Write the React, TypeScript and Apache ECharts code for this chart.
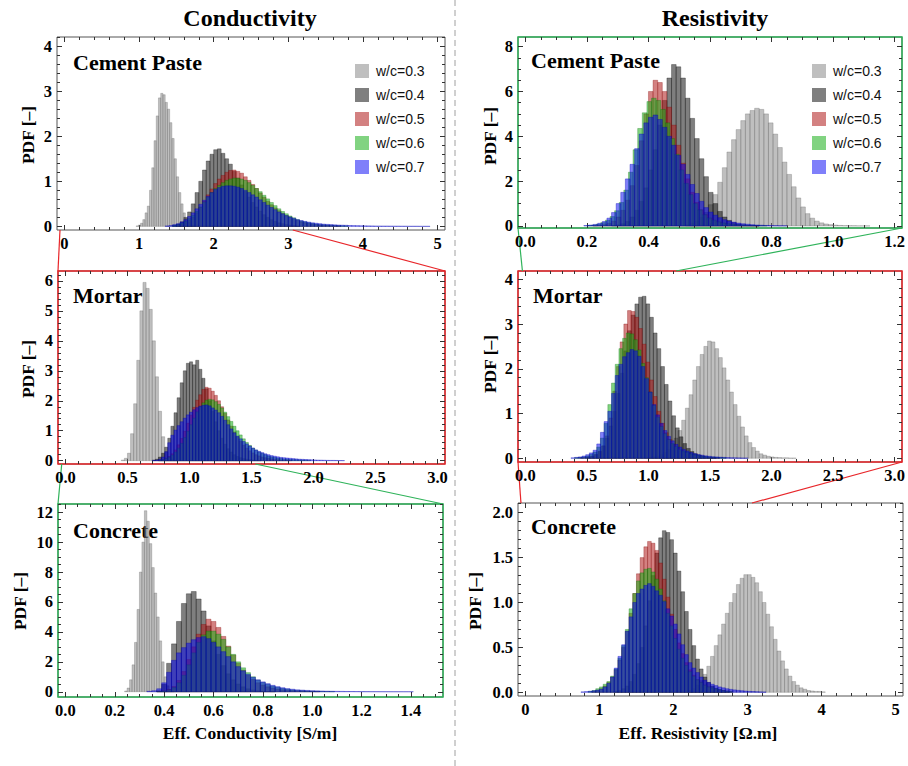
import { useEffect, useRef } from "react";
import * as echarts from "echarts";

// ---------------- data ----------------
const SERIES_NAMES = ["w/c=0.3", "w/c=0.4", "w/c=0.5", "w/c=0.6", "w/c=0.7"];

// Conductivity - cement paste (bin starts / widths per series, PDF heights)
const COND_PASTE_START = [0.96, 1.45, 1.5, 1.45, 1.35];
const COND_PASTE_WIDTH = [0.03, 0.05, 0.05, 0.05, 0.05];
const COND_PASTE_03 = [0.01, 0.03, 0.07, 0.15, 0.3, 0.45, 0.8, 1.3, 1.9, 2.45, 2.85, 2.95, 2.92, 2.75, 2.6, 2.3, 1.95, 1.5, 1.1, 0.75, 0.5, 0.3, 0.17, 0.09, 0.05, 0.02];
const COND_PASTE_04 = [0.02, 0.05, 0.1, 0.2, 0.32, 0.5, 0.75, 1.0, 1.25, 1.45, 1.6, 1.7, 1.72, 1.62, 1.5, 1.38, 1.22, 1.07, 0.92, 0.78, 0.65, 0.53, 0.43, 0.34, 0.26, 0.2, 0.15, 0.11, 0.08, 0.06, 0.04, 0.03, 0.02, 0.01];
const COND_PASTE_05 = [0.02, 0.04, 0.08, 0.13, 0.2, 0.3, 0.42, 0.56, 0.7, 0.83, 0.95, 1.05, 1.13, 1.2, 1.24, 1.25, 1.22, 1.18, 1.1, 1.02, 0.93, 0.84, 0.74, 0.65, 0.56, 0.48, 0.41, 0.35, 0.29, 0.24, 0.2, 0.16, 0.13, 0.1, 0.08, 0.065, 0.05, 0.04, 0.03, 0.025, 0.02, 0.015, 0.01, 0.01];
const COND_PASTE_06 = [0.02, 0.04, 0.07, 0.11, 0.17, 0.24, 0.33, 0.43, 0.54, 0.65, 0.75, 0.84, 0.91, 0.97, 1.02, 1.05, 1.07, 1.07, 1.05, 1.02, 0.97, 0.91, 0.84, 0.77, 0.69, 0.61, 0.53, 0.46, 0.39, 0.33, 0.28, 0.23, 0.19, 0.15, 0.12, 0.1, 0.08, 0.065, 0.05, 0.04, 0.035, 0.03, 0.025, 0.02, 0.015, 0.012, 0.01];
const COND_PASTE_07 = [0.01, 0.02, 0.04, 0.06, 0.1, 0.15, 0.22, 0.3, 0.39, 0.49, 0.58, 0.67, 0.75, 0.82, 0.86, 0.89, 0.9, 0.9, 0.89, 0.87, 0.84, 0.8, 0.75, 0.7, 0.65, 0.59, 0.53, 0.47, 0.42, 0.37, 0.32, 0.28, 0.24, 0.21, 0.18, 0.15, 0.13, 0.11, 0.095, 0.08, 0.07, 0.06, 0.05, 0.045, 0.04, 0.035, 0.03, 0.027, 0.024, 0.02, 0.018, 0.016, 0.014, 0.012, 0.011, 0.01, 0.009, 0.008, 0.007, 0.007, 0.006, 0.005, 0.005, 0.004, 0.004, 0.003, 0.003, 0.003, 0.002, 0.002, 0.002];

// Conductivity - mortar
const COND_MORTAR_START = [0.45, 0.7, 0.75, 0.75, 0.7];
const COND_MORTAR_WIDTH = [0.025, 0.025, 0.025, 0.025, 0.025];
const COND_MORTAR_03 = [0.02, 0.08, 0.25, 0.9, 1.9, 3.35, 5.0, 5.95, 5.75, 5.05, 4.0, 2.8, 1.65, 0.8, 0.3, 0.12, 0.05, 0.02];
const COND_MORTAR_04 = [0.02, 0.05, 0.12, 0.25, 0.45, 0.75, 1.15, 1.6, 2.1, 2.6, 3.0, 3.25, 3.3, 3.2, 3.35, 3.05, 2.75, 2.4, 2.0, 1.65, 1.3, 1.0, 0.75, 0.55, 0.4, 0.29, 0.2, 0.14, 0.1, 0.07, 0.05, 0.035, 0.025, 0.015, 0.01];
const COND_MORTAR_05 = [0.02, 0.04, 0.08, 0.14, 0.23, 0.36, 0.53, 0.74, 0.98, 1.25, 1.52, 1.78, 2.02, 2.2, 2.38, 2.45, 2.42, 2.32, 2.18, 2.0, 1.8, 1.58, 1.36, 1.15, 0.96, 0.8, 0.65, 0.52, 0.42, 0.33, 0.26, 0.2, 0.16, 0.12, 0.1, 0.08, 0.06, 0.045, 0.035, 0.025, 0.02, 0.015, 0.01];
const COND_MORTAR_06 = [0.02, 0.04, 0.07, 0.12, 0.19, 0.29, 0.42, 0.58, 0.77, 0.98, 1.2, 1.42, 1.63, 1.8, 1.93, 2.02, 2.05, 2.03, 1.97, 1.88, 1.76, 1.62, 1.47, 1.31, 1.15, 1.0, 0.86, 0.73, 0.61, 0.51, 0.42, 0.35, 0.29, 0.24, 0.2, 0.16, 0.13, 0.11, 0.09, 0.075, 0.06, 0.05, 0.04, 0.035, 0.03, 0.025, 0.02, 0.015, 0.01];
const COND_MORTAR_07 = [0.01, 0.02, 0.05, 0.12, 0.3, 0.6, 0.85, 1.02, 1.17, 1.3, 1.42, 1.53, 1.62, 1.7, 1.77, 1.82, 1.85, 1.86, 1.83, 1.76, 1.69, 1.6, 1.48, 1.35, 1.2, 1.06, 0.93, 0.82, 0.73, 0.64, 0.56, 0.49, 0.42, 0.36, 0.31, 0.27, 0.23, 0.2, 0.17, 0.15, 0.13, 0.11, 0.1, 0.09, 0.08, 0.07, 0.06, 0.05, 0.045, 0.04, 0.035, 0.03, 0.025, 0.02, 0.018, 0.015, 0.012, 0.01, 0.01, 0.008, 0.006, 0.005];

// Conductivity - concrete
const COND_CONCRETE_START = [0.24, 0.37, 0.37, 0.37, 0.33];
const COND_CONCRETE_WIDTH = [0.01, 0.02, 0.02, 0.02, 0.02];
const COND_CONCRETE_03 = [0.05, 0.25, 0.8, 1.8, 3.3, 5.5, 8.0, 10.0, 12.1, 11.4, 9.9, 8.3, 6.6, 5.0, 3.4, 2.0, 1.0, 0.4, 0.15, 0.05];
const COND_CONCRETE_04 = [0.06, 0.5, 1.9, 3.2, 4.7, 5.9, 6.55, 6.7, 6.2, 5.4, 4.4, 3.4, 2.5, 1.75, 1.2, 0.8, 0.52, 0.33, 0.2, 0.12, 0.07, 0.04, 0.02, 0.01];
const COND_CONCRETE_05 = [0.02, 0.06, 0.15, 0.35, 0.75, 1.35, 2.15, 3.0, 3.85, 4.5, 4.85, 4.7, 4.3, 3.7, 3.05, 2.45, 1.9, 1.45, 1.1, 0.82, 0.6, 0.45, 0.33, 0.25, 0.18, 0.13, 0.1, 0.07, 0.05, 0.04, 0.03, 0.02, 0.01];
const COND_CONCRETE_06 = [0.02, 0.05, 0.12, 0.28, 0.6, 1.1, 1.8, 2.6, 3.3, 3.8, 4.05, 4.05, 3.85, 3.5, 3.0, 2.5, 2.0, 1.6, 1.28, 1.0, 0.78, 0.62, 0.5, 0.38, 0.3, 0.22, 0.17, 0.12, 0.09, 0.07, 0.05, 0.04, 0.03, 0.02, 0.015, 0.01];
const COND_CONCRETE_07 = [0.03, 0.07, 0.2, 0.6, 1.3, 2.1, 2.6, 2.95, 3.25, 3.48, 3.62, 3.68, 3.55, 3.3, 3.0, 2.68, 2.35, 2.0, 1.68, 1.4, 1.17, 0.97, 0.8, 0.66, 0.54, 0.43, 0.34, 0.27, 0.21, 0.17, 0.13, 0.11, 0.09, 0.07, 0.06, 0.05, 0.04, 0.035, 0.03, 0.025, 0.02, 0.018, 0.015, 0.012, 0.01, 0.008, 0.008, 0.006, 0.005, 0.004, 0.004, 0.003, 0.003, 0.003];

// Resistivity - cement paste
const RES_PASTE_START = [0.52, 0.28, 0.22, 0.2, 0.19];
const RES_PASTE_WIDTH = [0.015, 0.015, 0.015, 0.015, 0.015];
const RES_PASTE_03 = [0.06, 0.12, 0.22, 0.38, 0.6, 0.95, 1.4, 1.95, 2.6, 3.3, 3.85, 4.3, 4.7, 5.0, 5.15, 5.25, 5.2, 5.0, 4.6, 4.1, 3.5, 2.85, 2.3, 1.75, 1.25, 0.85, 0.55, 0.35, 0.22, 0.14, 0.09, 0.06, 0.04, 0.025, 0.015, 0.01, 0.01, 0.005, 0.005, 0.005];
const RES_PASTE_04 = [0.02, 0.05, 0.1, 0.2, 0.4, 0.7, 1.1, 1.7, 2.5, 3.4, 4.5, 5.6, 6.6, 7.2, 7.1, 6.6, 5.7, 4.8, 3.9, 3.0, 2.2, 1.5, 1.0, 0.65, 0.4, 0.25, 0.15, 0.09, 0.05, 0.03, 0.02, 0.01];
const RES_PASTE_05 = [0.01, 0.03, 0.06, 0.12, 0.22, 0.4, 0.7, 1.15, 1.8, 2.7, 3.8, 5.0, 6.0, 6.5, 6.4, 6.0, 5.3, 4.5, 3.6, 2.8, 2.1, 1.5, 1.05, 0.72, 0.5, 0.34, 0.23, 0.16, 0.11, 0.08, 0.06, 0.04, 0.03, 0.02, 0.015, 0.01];
const RES_PASTE_06 = [0.02, 0.04, 0.08, 0.15, 0.26, 0.42, 0.68, 1.05, 1.6, 2.4, 3.4, 4.35, 5.05, 5.55, 5.7, 5.6, 5.2, 4.6, 3.9, 3.2, 2.5, 1.9, 1.4, 1.0, 0.72, 0.5, 0.36, 0.26, 0.19, 0.14, 0.1, 0.08, 0.06, 0.045, 0.035, 0.025, 0.02, 0.015, 0.01];
const RES_PASTE_07 = [0.02, 0.04, 0.07, 0.12, 0.2, 0.35, 0.6, 1.0, 1.5, 2.1, 2.75, 3.45, 4.1, 4.6, 4.85, 4.95, 4.75, 4.4, 4.0, 3.6, 3.15, 2.75, 2.3, 1.85, 1.45, 1.1, 0.82, 0.62, 0.48, 0.37, 0.28, 0.22, 0.17, 0.13, 0.1, 0.08, 0.06, 0.045, 0.035, 0.025, 0.02, 0.015, 0.01, 0.01];

// Resistivity - mortar
const RES_MORTAR_START = [1.0, 0.5, 0.44, 0.4, 0.37];
const RES_MORTAR_WIDTH = [0.03, 0.03, 0.03, 0.03, 0.03];
const RES_MORTAR_03 = [0.02, 0.03, 0.05, 0.08, 0.13, 0.2, 0.3, 0.45, 0.62, 0.85, 1.12, 1.42, 1.75, 2.05, 2.32, 2.5, 2.62, 2.6, 2.45, 2.25, 2.02, 1.75, 1.48, 1.2, 0.94, 0.7, 0.5, 0.35, 0.24, 0.16, 0.1, 0.07, 0.045, 0.03, 0.02, 0.015, 0.01, 0.01, 0.005, 0.005];
const RES_MORTAR_04 = [0.02, 0.04, 0.08, 0.15, 0.27, 0.45, 0.72, 1.05, 1.45, 1.9, 2.4, 2.85, 3.2, 3.45, 3.6, 3.62, 3.45, 3.15, 2.8, 2.45, 2.05, 1.65, 1.28, 0.95, 0.68, 0.48, 0.33, 0.22, 0.15, 0.1, 0.07, 0.05, 0.03, 0.02, 0.01];
const RES_MORTAR_05 = [0.01, 0.02, 0.03, 0.05, 0.09, 0.16, 0.28, 0.5, 0.9, 1.5, 2.05, 2.6, 3.0, 3.3, 3.28, 3.15, 2.9, 2.55, 2.15, 1.75, 1.38, 1.05, 0.78, 0.57, 0.42, 0.31, 0.23, 0.17, 0.13, 0.1, 0.08, 0.06, 0.045, 0.035, 0.025, 0.02, 0.015, 0.01];
const RES_MORTAR_06 = [0.01, 0.02, 0.03, 0.05, 0.09, 0.14, 0.25, 0.45, 0.78, 1.2, 1.68, 2.1, 2.45, 2.68, 2.8, 2.78, 2.65, 2.42, 2.12, 1.8, 1.48, 1.18, 0.92, 0.71, 0.55, 0.42, 0.33, 0.26, 0.2, 0.16, 0.13, 0.1, 0.08, 0.065, 0.05, 0.04, 0.03, 0.025, 0.02, 0.015, 0.01];
const RES_MORTAR_07 = [0.01, 0.02, 0.03, 0.05, 0.08, 0.12, 0.18, 0.32, 0.58, 0.82, 1.05, 1.45, 1.85, 2.1, 2.27, 2.36, 2.43, 2.4, 2.28, 2.05, 1.78, 1.48, 1.2, 0.97, 0.78, 0.62, 0.49, 0.39, 0.31, 0.25, 0.2, 0.16, 0.13, 0.105, 0.085, 0.07, 0.055, 0.045, 0.035, 0.03, 0.025, 0.02, 0.015, 0.012, 0.01, 0.008, 0.006, 0.005];

// Resistivity - concrete
const RES_CONCRETE_START = [2.2, 1.2, 0.9, 0.85, 0.75];
const RES_CONCRETE_WIDTH = [0.05, 0.05, 0.05, 0.05, 0.05];
const RES_CONCRETE_03 = [0.02, 0.04, 0.08, 0.13, 0.2, 0.29, 0.4, 0.52, 0.64, 0.76, 0.88, 1.0, 1.1, 1.2, 1.27, 1.31, 1.31, 1.28, 1.22, 1.12, 1.0, 0.87, 0.73, 0.59, 0.46, 0.35, 0.26, 0.18, 0.12, 0.08, 0.05, 0.035, 0.02, 0.015, 0.01, 0.01, 0.005];
const RES_CONCRETE_04 = [0.01, 0.02, 0.04, 0.07, 0.12, 0.2, 0.32, 0.5, 0.74, 1.02, 1.3, 1.55, 1.72, 1.8, 1.78, 1.7, 1.55, 1.35, 1.12, 0.9, 0.7, 0.52, 0.37, 0.26, 0.17, 0.11, 0.07, 0.045, 0.03, 0.02, 0.01];
const RES_CONCRETE_05 = [0.01, 0.02, 0.04, 0.07, 0.11, 0.17, 0.25, 0.36, 0.5, 0.68, 0.88, 1.1, 1.32, 1.5, 1.62, 1.68, 1.66, 1.58, 1.44, 1.26, 1.06, 0.87, 0.7, 0.55, 0.43, 0.33, 0.25, 0.19, 0.14, 0.11, 0.08, 0.06, 0.045, 0.035, 0.025, 0.02, 0.015, 0.01];
const RES_CONCRETE_06 = [0.01, 0.02, 0.04, 0.06, 0.09, 0.12, 0.18, 0.26, 0.38, 0.52, 0.7, 0.93, 1.1, 1.24, 1.33, 1.37, 1.38, 1.34, 1.26, 1.15, 1.02, 0.88, 0.74, 0.6, 0.48, 0.38, 0.3, 0.23, 0.18, 0.14, 0.11, 0.08, 0.06, 0.05, 0.04, 0.03, 0.02, 0.015, 0.01];
const RES_CONCRETE_07 = [0.005, 0.008, 0.012, 0.018, 0.025, 0.035, 0.06, 0.1, 0.17, 0.27, 0.4, 0.53, 0.68, 0.84, 1.0, 1.1, 1.15, 1.19, 1.21, 1.18, 1.13, 1.08, 1.01, 0.93, 0.85, 0.76, 0.65, 0.53, 0.42, 0.33, 0.27, 0.22, 0.17, 0.135, 0.11, 0.09, 0.075, 0.06, 0.05, 0.04, 0.033, 0.027, 0.022, 0.018, 0.014, 0.011, 0.009, 0.007, 0.005, 0.004];

// tick labels
const COND_PASTE_X_TICKS = [0, 1, 2, 3, 4, 5];
const COND_PASTE_Y_TICKS = [0, 1, 2, 3, 4];
const COND_MORTAR_X_TICKS = [0, 0.5, 1, 1.5, 2, 2.5, 3];
const COND_MORTAR_Y_TICKS = [0, 1, 2, 3, 4, 5, 6];
const COND_CONCRETE_X_TICKS = [0, 0.2, 0.4, 0.6, 0.8, 1.0, 1.2, 1.4];
const COND_CONCRETE_Y_TICKS = [0, 2, 4, 6, 8, 10, 12];
const RES_PASTE_X_TICKS = [0, 0.2, 0.4, 0.6, 0.8, 1.0, 1.2];
const RES_PASTE_Y_TICKS = [0, 2, 4, 6, 8];
const RES_MORTAR_X_TICKS = [0, 0.5, 1, 1.5, 2, 2.5, 3];
const RES_MORTAR_Y_TICKS = [0, 1, 2, 3, 4];
const RES_CONCRETE_X_TICKS = [0, 1, 2, 3, 4, 5];
const RES_CONCRETE_Y_TICKS = [0, 0.5, 1, 1.5, 2];

// ---------------- layout & style ----------------
const SERIF = '"Liberation Serif", "Times New Roman", serif';
const SANS = '"Liberation Sans", Arial, sans-serif';
const FILLS = ["rgba(128,128,128,0.5)", "rgba(0,0,0,0.5)", "rgba(175,25,25,0.55)", "rgba(25,175,25,0.55)", "rgba(0,0,245,0.5)"];
const EDGES = ["rgba(90,90,90,0.55)", "rgba(0,0,0,0.6)", "rgba(130,0,0,0.6)", "rgba(0,110,0,0.6)", "rgba(0,0,180,0.7)"];
const RED = "#e8262a";
const GREEN = "#2fb35a";

const PANELS = [
  { label: "Cement Paste", labelPos: [73, 62], yName: [28, 135], grid: { left: 57, top: 37, width: 388, height: 193 }, xr: [-0.1, 5.1], yr: [-0.08, 4.2], xMinor: 0.2, yMinor: 0.2, xDec: 0, yDec: 0, xt: COND_PASTE_X_TICKS, yt: COND_PASTE_Y_TICKS, start: COND_PASTE_START, width: COND_PASTE_WIDTH, data: [COND_PASTE_03, COND_PASTE_04, COND_PASTE_05, COND_PASTE_06, COND_PASTE_07], frame: null },
  { label: "Mortar", labelPos: [73, 295], yName: [28, 369], grid: { left: 58, top: 271, width: 387, height: 193 }, xr: [-0.06, 3.06], yr: [-0.11, 6.33], xMinor: 0.1, yMinor: 0.2, xDec: 1, yDec: 0, xt: COND_MORTAR_X_TICKS, yt: COND_MORTAR_Y_TICKS, start: COND_MORTAR_START, width: COND_MORTAR_WIDTH, data: [COND_MORTAR_03, COND_MORTAR_04, COND_MORTAR_05, COND_MORTAR_06, COND_MORTAR_07], frame: RED },
  { label: "Concrete", labelPos: [73, 530], yName: [20, 601], grid: { left: 58, top: 504, width: 385, height: 193 }, xr: [-0.03, 1.53], yr: [-0.35, 12.55], xMinor: 0.05, yMinor: 0.5, xDec: 1, yDec: 0, xt: COND_CONCRETE_X_TICKS, yt: COND_CONCRETE_Y_TICKS, start: COND_CONCRETE_START, width: COND_CONCRETE_WIDTH, data: [COND_CONCRETE_03, COND_CONCRETE_04, COND_CONCRETE_05, COND_CONCRETE_06, COND_CONCRETE_07], frame: GREEN },
  { label: "Cement Paste", labelPos: [531, 60], yName: [490, 136], grid: { left: 518, top: 37, width: 384, height: 191 }, xr: [-0.024, 1.224], yr: [-0.09, 8.43], xMinor: 0.05, yMinor: 0.5, xDec: 1, yDec: 0, xt: RES_PASTE_X_TICKS, yt: RES_PASTE_Y_TICKS, start: RES_PASTE_START, width: RES_PASTE_WIDTH, data: [RES_PASTE_03, RES_PASTE_04, RES_PASTE_05, RES_PASTE_06, RES_PASTE_07], frame: GREEN },
  { label: "Mortar", labelPos: [533, 295], yName: [490, 364], grid: { left: 518, top: 271, width: 384, height: 191 }, xr: [-0.06, 3.06], yr: [-0.083, 4.185], xMinor: 0.1, yMinor: 0.2, xDec: 1, yDec: 0, xt: RES_MORTAR_X_TICKS, yt: RES_MORTAR_Y_TICKS, start: RES_MORTAR_START, width: RES_MORTAR_WIDTH, data: [RES_MORTAR_03, RES_MORTAR_04, RES_MORTAR_05, RES_MORTAR_06, RES_MORTAR_07], frame: RED },
  { label: "Concrete", labelPos: [531, 526], yName: [475, 601], grid: { left: 518, top: 503, width: 385, height: 193 }, xr: [-0.1, 5.1], yr: [-0.041, 2.108], xMinor: 0.2, yMinor: 0.1, xDec: 0, yDec: 1, xt: RES_CONCRETE_X_TICKS, yt: RES_CONCRETE_Y_TICKS, start: RES_CONCRETE_START, width: RES_CONCRETE_WIDTH, data: [RES_CONCRETE_03, RES_CONCRETE_04, RES_CONCRETE_05, RES_CONCRETE_06, RES_CONCRETE_07], frame: null },
];

// zoom connectors: upper panel -> lower panel, x-range shown
const CONNECTORS = [
  { from: 0, to: 1, range: 1, color: RED },
  { from: 1, to: 2, range: 2, color: GREEN },
  { from: 3, to: 4, range: 3, color: GREEN },
  { from: 4, to: 5, range: 4, color: RED },
];

const TICK_COLOR = "#333";
const FRAME_COLOR = "#555";

function gridValues(lo, hi, step) {
  const out = [];
  const a = Math.ceil(lo / step - 1e-9);
  const b = Math.floor(hi / step + 1e-9);
  for (let k = a; k <= b; k++) out.push(Math.round(k * step * 1e6) / 1e6);
  return out;
}

function toBins(start, width, pdf) {
  return pdf.map((h, i) => [Math.round((start + i * width) * 1e6) / 1e6, h, width]);
}

function buildOption() {
  const grid = [];
  const xAxis = [];
  const yAxis = [];
  const series = [];
  PANELS.forEach((p, i) => {
    grid.push({ ...p.grid, show: true, borderColor: FRAME_COLOR, borderWidth: 1, backgroundColor: "transparent" });
    const xMinor = gridValues(p.xr[0], p.xr[1], p.xMinor).filter((v) => !p.xt.some((m) => Math.abs(m - v) < 1e-6));
    const yMinor = gridValues(p.yr[0], p.yr[1], p.yMinor).filter((v) => !p.yt.some((m) => Math.abs(m - v) < 1e-6));
    const base = (min, max) => ({ type: "value", gridIndex: i, min, max, splitLine: { show: false }, axisLine: { show: false, onZero: false } });
    const label = (ticks, dec) => ({
      show: true,
      customValues: ticks,
      formatter: (v) => Number(v).toFixed(dec),
      margin: 5,
      fontFamily: SERIF,
      fontWeight: "bold",
      fontSize: 16.5,
      color: "#000",
    });
    const tick = (vals, len) => ({ show: true, inside: true, length: len, customValues: vals, lineStyle: { color: TICK_COLOR, width: 1 } });
    xAxis.push(
      { ...base(p.xr[0], p.xr[1]), position: "bottom", axisTick: tick(p.xt, 5), axisLabel: label(p.xt, p.xDec) },
      { ...base(p.xr[0], p.xr[1]), position: "top", axisTick: tick(p.xt, 5), axisLabel: { show: false } },
      { ...base(p.xr[0], p.xr[1]), position: "bottom", axisTick: tick(xMinor, 3), axisLabel: { show: false } },
      { ...base(p.xr[0], p.xr[1]), position: "top", axisTick: tick(xMinor, 3), axisLabel: { show: false } }
    );
    yAxis.push(
      { ...base(p.yr[0], p.yr[1]), position: "left", axisTick: tick(p.yt, 5), axisLabel: label(p.yt, p.yDec) },
      { ...base(p.yr[0], p.yr[1]), position: "right", axisTick: tick(p.yt, 5), axisLabel: { show: false } },
      { ...base(p.yr[0], p.yr[1]), position: "left", axisTick: tick(yMinor, 3), axisLabel: { show: false } },
      { ...base(p.yr[0], p.yr[1]), position: "right", axisTick: tick(yMinor, 3), axisLabel: { show: false } }
    );
    p.data.forEach((pdf, k) => {
      const fill = FILLS[k];
      const edge = EDGES[k];
      series.push({
        type: "custom",
        name: SERIES_NAMES[k],
        xAxisIndex: 4 * i,
        yAxisIndex: 4 * i,
        clip: true,
        encode: { x: 0, y: 1 },
        itemStyle: { color: fill },
        data: toBins(p.start[k], p.width[k], pdf),
        renderItem: (params, api) => {
          const x = api.value(0);
          const h = api.value(1);
          const w = api.value(2);
          const a = api.coord([x, 0]);
          const b = api.coord([x + w, h]);
          return {
            type: "rect",
            shape: { x: a[0], y: b[1], width: b[0] - a[0], height: a[1] - b[1] },
            style: { fill, stroke: edge, lineWidth: 0.5 },
          };
        },
      });
    });
  });
  const legendBase = {
    data: SERIES_NAMES,
    top: 59,
    orient: "vertical",
    icon: "rect",
    itemWidth: 14,
    itemHeight: 14,
    itemGap: 10,
    selectedMode: false,
    itemStyle: { borderWidth: 0 },
    textStyle: { fontFamily: SANS, fontSize: 14, color: "#111", padding: [0, 0, 0, 2] },
  };
  return {
    animation: false,
    backgroundColor: "#fff",
    grid,
    xAxis,
    yAxis,
    series,
    legend: [
      { ...legendBase, left: 350 },
      { ...legendBase, left: 807 },
    ],
  };
}

function buildGraphic(chart) {
  const els = [];
  const txt = (text, x, y, size, extra = {}) => ({
    type: "text",
    x,
    y,
    ...extra,
    style: { text, fontFamily: SERIF, fontWeight: "bold", fontSize: size, fill: "#000", textAlign: extra.align || "center", textVerticalAlign: "middle" },
  });
  els.push({ type: "line", shape: { x1: 455, y1: 0, x2: 455, y2: 766 }, style: { stroke: "#a0a0a0", lineWidth: 1, lineDash: [6, 4] } });
  els.push(txt("Conductivity", 250, 18, 24));
  els.push(txt("Resistivity", 715, 18, 24));
  els.push(txt("Eff. Conductivity [S/m]", 250, 733, 17.5));
  els.push(txt("Eff. Resistivity [Ω.m]", 698, 733, 17.5));
  PANELS.forEach((p) => {
    els.push(txt(p.label, p.labelPos[0], p.labelPos[1], 22, { align: "left" }));
    els.push(txt("PDF [–]", p.yName[0], p.yName[1], 17.5, { rotation: Math.PI / 2 }));
    if (p.frame) {
      els.push({ type: "rect", shape: { x: p.grid.left, y: p.grid.top, width: p.grid.width, height: p.grid.height }, style: { fill: "none", stroke: p.frame, lineWidth: 1.5 } });
    }
  });
  const px = (i, v) => chart.convertToPixel({ xAxisIndex: 4 * i, yAxisIndex: 4 * i }, v);
  CONNECTORS.forEach((c) => {
    const up = PANELS[c.from];
    const lo = PANELS[c.to];
    const r = PANELS[c.range].xr;
    [r[0], r[1]].forEach((xv) => {
      const a = px(c.from, [xv, up.yr[0]]);
      const b = px(c.to, [xv, lo.yr[1]]);
      els.push({ type: "line", shape: { x1: a[0], y1: a[1], x2: b[0], y2: b[1] }, style: { stroke: c.color, lineWidth: 1.2 } });
    });
  });
  return { elements: els };
}

export default function App() {
  const ref = useRef(null);
  useEffect(() => {
    const chart = echarts.init(ref.current, null, { renderer: "svg" });
    chart.setOption(buildOption());
    chart.setOption({ graphic: buildGraphic(chart) });
    return () => chart.dispose();
  }, []);
  return <div ref={ref} style={{ position: "absolute", left: 0, top: 0, width: 908, height: 766 }} />;
}
